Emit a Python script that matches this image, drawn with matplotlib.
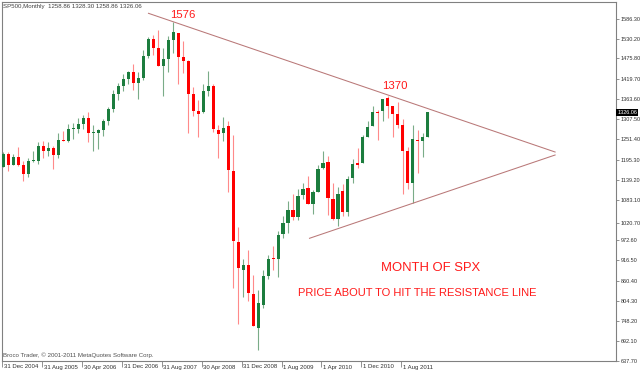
import matplotlib
matplotlib.use("Agg")
import matplotlib.pyplot as plt
import numpy as np

# Monthly SP500 candles, Dec 2004 .. Jan 2012
opens = [1173.8, 1211.9, 1181.3, 1203.6, 1180.6, 1156.9, 1190.8, 1191.3, 1234.2, 1220.3, 1228.8, 1207.0, 1249.5,
         1248.3, 1280.1, 1280.7, 1294.9, 1310.6, 1270.1, 1270.1, 1278.5, 1303.8, 1335.8, 1377.8, 1400.6,
         1418.0, 1437.9, 1406.8, 1420.8, 1482.4, 1530.6, 1504.7, 1455.2, 1474.0, 1527.3, 1545.8, 1479.6,
         1468.0, 1378.6, 1330.5, 1326.4, 1386.0, 1399.6, 1276.7, 1269.4, 1287.8, 1164.2, 968.7, 888.6,
         903.0, 823.1, 729.6, 793.6, 872.7, 923.3, 920.8, 990.2, 1019.5, 1054.9, 1036.2, 1098.9,
         1116.6, 1073.9, 1105.4, 1171.2, 1188.6, 1087.3, 1031.1, 1107.5, 1049.7, 1143.5, 1185.7, 1186.6,
         1257.6, 1289.1, 1328.6, 1329.5, 1365.2, 1345.2, 1320.6, 1292.6, 1219.1, 1131.2, 1251.0, 1246.9,
         1258.86]
highs = [1217.3, 1217.8, 1212.4, 1229.1, 1191.9, 1199.6, 1219.6, 1245.2, 1245.9, 1243.1, 1233.3, 1270.6, 1275.8,
         1294.9, 1297.6, 1310.9, 1318.2, 1326.7, 1290.7, 1280.4, 1306.7, 1340.3, 1389.5, 1407.9, 1431.8,
         1441.6, 1461.6, 1438.9, 1498.0, 1535.6, 1540.6, 1555.9, 1503.9, 1538.7, 1576.1, 1545.8, 1523.6,
         1471.8, 1396.0, 1359.7, 1404.1, 1440.2, 1404.1, 1292.2, 1313.2, 1303.0, 1264.3, 1007.5, 918.9,
         943.9, 875.0, 833.0, 888.7, 930.2, 956.2, 996.7, 1039.5, 1080.2, 1101.4, 1113.7, 1130.4,
         1150.5, 1112.4, 1180.7, 1219.8, 1205.1, 1131.2, 1121.0, 1129.2, 1148.9, 1196.1, 1227.1, 1262.6,
         1302.7, 1344.1, 1332.3, 1364.6, 1370.6, 1345.2, 1356.5, 1307.4, 1229.3, 1292.7, 1277.6, 1269.4,
         1328.30]
lows = [1173.8, 1163.8, 1181.0, 1176.9, 1136.2, 1146.2, 1188.3, 1183.6, 1201.1, 1205.4, 1168.2, 1201.1, 1246.6,
        1245.7, 1253.6, 1268.4, 1280.7, 1245.3, 1219.3, 1224.5, 1261.3, 1290.9, 1327.1, 1361.0, 1385.9,
        1404.0, 1389.4, 1364.0, 1416.4, 1476.7, 1484.2, 1454.3, 1370.6, 1439.3, 1489.6, 1406.1, 1435.7,
        1270.1, 1316.8, 1257.0, 1324.4, 1373.1, 1272.0, 1200.4, 1247.5, 1106.4, 839.8, 741.0, 815.7,
        804.2, 734.5, 666.8, 783.3, 866.1, 888.9, 869.3, 978.5, 992.0, 1029.4, 1029.4, 1085.9,
        1071.6, 1044.5, 1105.4, 1170.7, 1040.8, 1028.3, 1010.9, 1039.7, 1039.7, 1131.9, 1173.0, 1186.6,
        1257.6, 1289.1, 1249.1, 1302.7, 1311.8, 1258.1, 1282.9, 1101.5, 1114.2, 1074.8, 1158.7, 1202.4,
        1258.86]
closes = [1211.9, 1181.3, 1203.6, 1180.6, 1156.9, 1191.5, 1192.8, 1234.2, 1220.3, 1228.8, 1207.0, 1249.5, 1248.3,
          1280.1, 1280.7, 1294.9, 1310.6, 1270.1, 1270.2, 1276.7, 1303.8, 1335.9, 1377.9, 1400.6, 1418.3,
          1438.2, 1406.8, 1420.9, 1482.4, 1530.6, 1503.4, 1455.3, 1474.0, 1526.8, 1549.4, 1481.1, 1468.4,
          1378.6, 1330.6, 1322.7, 1385.6, 1400.4, 1280.0, 1267.4, 1282.8, 1166.4, 968.8, 896.2, 903.3,
          825.9, 735.1, 797.9, 872.8, 919.1, 919.3, 987.5, 1020.6, 1057.1, 1036.2, 1095.6, 1115.1,
          1073.9, 1104.5, 1169.4, 1186.7, 1089.4, 1030.7, 1101.6, 1049.3, 1141.2, 1183.3, 1180.6, 1257.6,
          1286.1, 1327.2, 1325.8, 1363.6, 1345.2, 1320.6, 1292.3, 1218.9, 1131.4, 1253.3, 1247.0, 1257.6,
          1326.06]

date_labels = ["31 Dec 2004", "31 Aug 2005", "30 Apr 2006", "31 Dec 2006", "31 Aug 2007", "30 Apr 2008",
               "31 Dec 2008", "1 Aug 2009", "1 Apr 2010", "1 Dec 2010", "1 Aug 2011"]
price_ticks = [1586.30, 1530.20, 1475.80, 1419.70, 1363.60, 1307.50, 1251.40, 1195.30, 1139.20,
               1083.10, 1020.70, 972.60, 916.50, 860.40, 804.30, 748.20, 692.10, 637.70]

plt.rcParams['font.family'] = ['Liberation Sans', 'DejaVu Sans']

fig = plt.figure(figsize=(6.4, 3.72), dpi=100)
ax = fig.add_axes([2/640, 11/372, 614/640, 359/372])
ax.set_xlim(-0.1, 122.7)
ax.set_ylim(637.7, 637.7 + 359 * 2.77)

o = np.array(opens); h = np.array(highs); l = np.array(lows); c = np.array(closes)
x = np.arange(len(o))
up = c >= o
body_col = np.where(up, '#1c7d3e', '#ff0000')
wick_col = np.where(up, '#7aac88', '#ff8a8a')

ax.vlines(x, l, h, colors=wick_col, linewidth=0.8, zorder=2)
heights = np.maximum(np.abs(c - o), 2.77)
ax.bar(x, heights, bottom=np.minimum(o, c), width=0.62, color=body_col, linewidth=0, zorder=3)

# trend lines
line_col = '#b97878'
ax.plot([29.04, 110.5], [1600.8, 1216.6], color=line_col, lw=0.75, zorder=4)
ax.plot([61.3, 110.5], [977.6, 1208.3], color=line_col, lw=0.75, zorder=4)

# annotations
red = '#ff1a1a'
ax.text(36.0, 1597.5, "1576", color=red, fontsize=8.2, ha='center', va='center')
ax.text(78.4, 1398.1, "1370", color=red, fontsize=8.2, ha='center', va='center')
ax.text(75.7, 895.3, "MONTH OF SPX", color=red, fontsize=9.4, ha='left', va='center')
ax.text(58.9, 826.1, "PRICE ABOUT TO HIT THE RESISTANCE LINE", color=red, fontsize=8.0, ha='left', va='center')

# frame
for s in ax.spines.values():
    s.set_color('#808080')
    s.set_linewidth(0.8)

# right price axis
ax.yaxis.tick_right()
ax.set_yticks(price_ticks)
ax.set_yticklabels([f"{v:.2f}" for v in price_ticks])
ax.tick_params(axis='y', length=2.2, width=0.6, color='#808080', pad=1.0, labelsize=4.0, labelcolor='#303030')

# bottom date axis
tick_pos = [8 * i - 0.3 for i in range(len(date_labels))]
ax.set_xticks(tick_pos)
ax.set_xticklabels([])
ax.tick_params(axis='x', length=4.5, width=0.6, color='#808080', direction='out')
for p, lab in zip(tick_pos, date_labels):
    ax.text(p + 0.35, -6/359, lab, transform=ax.get_xaxis_transform(), fontsize=4.3,
            color='#303030', ha='left', va='center', clip_on=False)

# header and footer
ax.text(1/614, (361 - 6.5)/359, "SP500,Monthly  1258.86 1328.30 1258.86 1326.06", transform=ax.transAxes,
        fontsize=4.4, color='#404040', ha='left', va='center')
ax.text(1/614, 6/359, "Broco Trader, \u00a9 2001-2011 MetaQuotes Software Corp.", transform=ax.transAxes,
        fontsize=4.4, color='#505050', ha='left', va='center')

# current price marker
ax.text(1.0 + 1.2/614, 1326.06, "1326.06", transform=ax.get_yaxis_transform(), fontsize=4.0,
        color='white', ha='left', va='center', zorder=10, clip_on=False,
        bbox=dict(facecolor='black', edgecolor='none', pad=0.8))

fig.savefig("out.png", dpi=100)
